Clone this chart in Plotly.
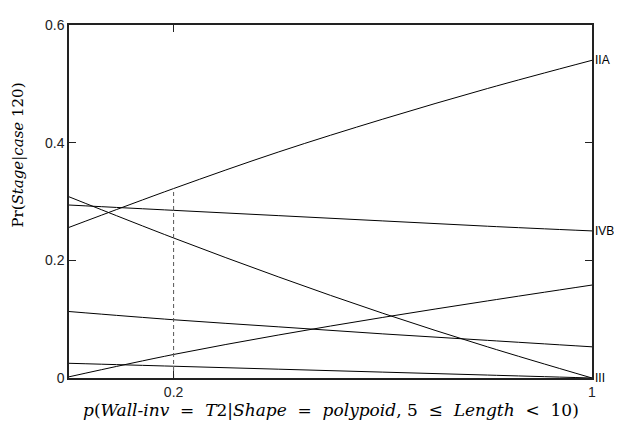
import plotly.graph_objects as go

# probability of the evidence on the x axis
p_vals = [0.0, 0.2, 0.4, 0.6, 0.8, 1.0]

# posterior Pr(Stage | case 120) for each stage
stage_iia = [0.256, 0.322, 0.384, 0.440, 0.492, 0.540]
stage_iii = [0.308, 0.238, 0.172, 0.110, 0.053, 0.000]
stage_ivb = [0.294, 0.285, 0.276, 0.267, 0.258, 0.250]
stage_rise = [0.002, 0.040, 0.073, 0.103, 0.131, 0.158]
stage_mid = [0.113, 0.099, 0.087, 0.075, 0.064, 0.053]
stage_low = [0.025, 0.020, 0.015, 0.010, 0.005, 0.000]

# which curves get a name at the right edge
end_labels = ["IIA", "IVB", "III"]
end_values = [stage_iia[-1], stage_ivb[-1], stage_iii[-1]]

# marker for the current evidence value
current_p = 0.2

y_ticks = [0, 0.2, 0.4, 0.6]
y_ticktext = ["0", "0.2", "0.4", "0.6"]
x_ticks = [0.2, 1]
x_ticktext = ["0.2", "1"]

fig = go.Figure()

for series in [stage_iia, stage_iii, stage_ivb, stage_rise, stage_mid, stage_low]:
    fig.add_trace(go.Scatter(
        x=p_vals, y=series, mode="lines", line_shape="spline",
        line=dict(color="black", width=1), showlegend=False, hoverinfo="skip",
    ))

# dashed drop line at the current value, up to the IIA curve
fig.add_trace(go.Scatter(
    x=[current_p, current_p], y=[0, stage_iia[p_vals.index(current_p)]],
    mode="lines", line=dict(color="#555555", width=1, dash="4px,3px"),
    showlegend=False, hoverinfo="skip",
))

for label, val in zip(end_labels, end_values):
    fig.add_annotation(
        x=1, y=val, xref="x", yref="y", text=label, showarrow=False,
        xanchor="left", yanchor="middle", xshift=1,
        font=dict(family="Liberation Sans, Arial", size=12, color="black"),
    )

fig.add_annotation(
    x=0.5, y=0, xref="paper", yref="paper", yanchor="middle", yshift=-32,
    showarrow=False,
    text=("<i>p</i>(<i>Wall-inv</i>&nbsp; = &nbsp;<i>T</i>2|<i>Shape</i>&nbsp; = &nbsp;"
          "<i>polypoid</i>, 5&nbsp; ≤ &nbsp;<i>Length</i>&nbsp; &lt; &nbsp;10)"),
    font=dict(family="DejaVu Serif", size=17, color="black"),
)
fig.add_annotation(
    x=0, y=0.63, xref="paper", yref="paper", xanchor="center", yanchor="middle",
    xshift=-51, textangle=-90, showarrow=False,
    text="Pr(<i>Stage</i>|<i>case</i> 120)",
    font=dict(family="DejaVu Serif", size=15, color="black"),
)

axis_common = dict(
    showgrid=False, zeroline=False, showline=True, linecolor="#222222",
    linewidth=1.5, mirror="ticks", ticks="inside", ticklen=7, tickwidth=1,
    tickcolor="#222222",
    tickfont=dict(family="Liberation Sans, Arial", size=14, color="#222222"),
)

fig.update_xaxes(range=[0, 1], tickvals=x_ticks, ticktext=x_ticktext, **axis_common)
fig.update_yaxes(range=[0, 0.6], tickvals=y_ticks, ticktext=y_ticktext, **axis_common)

# the page adds an 8px body margin, so the plot box is pulled back by that much
fig.update_layout(
    width=622, height=430,
    margin=dict(l=61, r=38, t=9, b=60),
    plot_bgcolor="white", paper_bgcolor="white",
)

fig.write_html("out.html")
